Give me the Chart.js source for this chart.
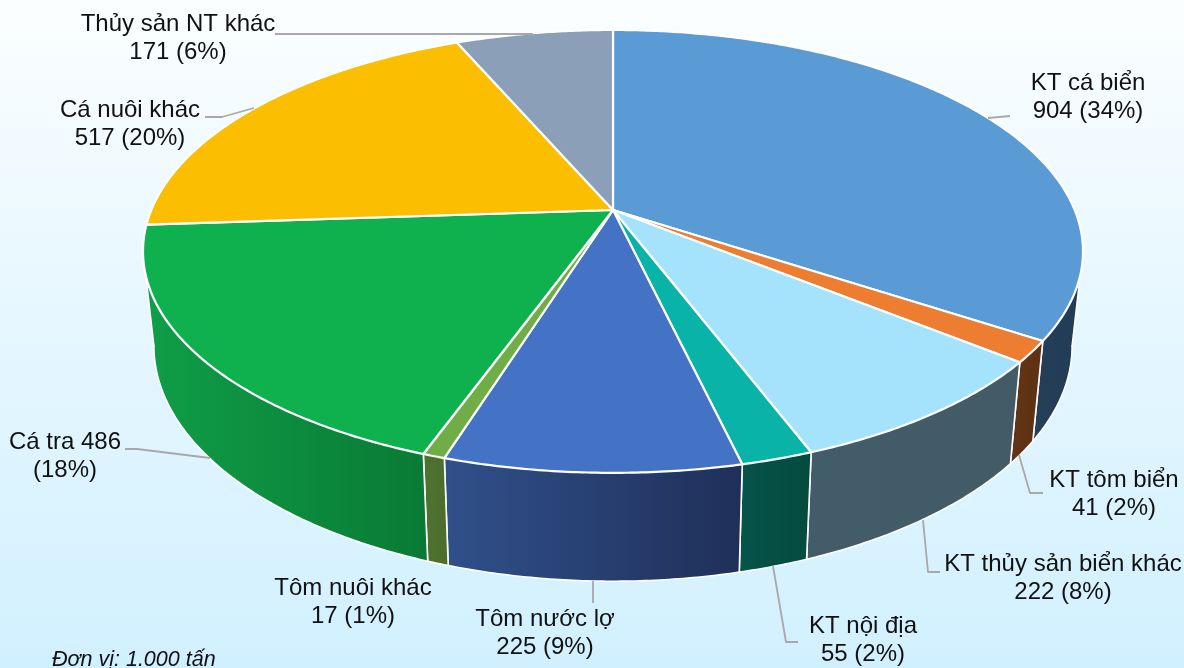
<!DOCTYPE html>
<html lang="vi">
<head>
<meta charset="utf-8">
<title>Cơ cấu sản lượng thủy sản</title>
<style>
html,body{margin:0;padding:0;width:1184px;height:668px;overflow:hidden;
background:linear-gradient(180deg,#fbfeff 0%,#eaf8ff 38%,#d1f0ff 100%);}
canvas{display:block}
</style>
<script src="https://cdn.jsdelivr.net/npm/chart.js@4/dist/chart.umd.min.js"></script>
</head>
<body>
<canvas id="c" width="1184" height="668"></canvas>
<script>
const categories = ["KT cá biển","KT tôm biển","KT thủy sản biển khác","KT nội địa","Tôm nước lợ","Tôm nuôi khác","Cá tra","Cá nuôi khác","Thủy sản NT khác"];
const values = [904,41,222,55,225,17,486,517,171];
const percents = [34,2,8,2,9,1,18,20,6];
const topColors = ["#5B9BD5","#ED7D31","#A5E3FC","#0AB3A8","#4472C4","#70AD47","#0FB14F","#FCBE00","#8B9FB9"];
const sideFrom = ["#263F59","#633516","#435C69","#06544A","#30508A","#4E722F","#0F9E47","#A87F00","#5D6B7C"];
const sideTo   = ["#233C55","#5E3113","#425B67","#044A3F","#1F2F59","#4C6E2D","#097A35","#A87F00","#5D6B7C"];
const unitNote = "Đơn vị: 1.000 tấn";

/* text layout: [centre x, first line y, first line, second line] */
const labelLines = [
  [1088,83,"KT cá biển","904 (34%)"],
  [1114,480,"KT tôm biển","41 (2%)"],
  [1063,564,"KT thủy sản biển khác","222 (8%)"],
  [863,626,"KT nội địa","55 (2%)"],
  [545,619,"Tôm nước lợ","225 (9%)"],
  [353,588,"Tôm nuôi khác","17 (1%)"],
  [65,442,"Cá tra 486","(18%)"],
  [130,110,"Cá nuôi khác","517 (20%)"],
  [178,24,"Thủy sản NT khác","171 (6%)"]
];
const leaderPaths = [
  [[988,118],[1010,116]],
  [[1019,455],[1030,493],[1043,493]],
  [[923,520],[928,572],[940,572]],
  [[773,566],[786,642],[798,642]],
  [[593,581],[593,603]],
  [],
  [[125,449],[137,449],[210,458]],
  [[205,117],[222,117],[254,108]],
  [[275,34],[533,34]]
];

/* perspective planes of the disc */
const persp = 0.187;
const topPlane = {cx:613,cy:210,a:461.7,b:213.7,p:persp};
const basePlane = {cx:613,cy:302,a:451,b:227,p:persp};
const frontStart = Math.asin(persp), frontEnd = Math.PI-frontStart;
function proj(pl,ang){
  const x=Math.cos(ang), v=Math.sin(ang), w=1-pl.p*v;
  return [pl.cx+pl.a*x/w, pl.cy+pl.b*v/w];
}
function rim(pl,s,e){
  const n=Math.max(2,Math.ceil((e-s)/(Math.PI/360))), pts=[];
  for(let i=0;i<=n;i++) pts.push(proj(pl,s+(e-s)*i/n));
  return pts;
}
function trace(ctx,pts){
  pts.forEach((p,k)=>k?ctx.lineTo(p[0],p[1]):ctx.moveTo(p[0],p[1]));
}
const pie3d = {
  id:'pie3d',
  beforeDatasetDraw(chart,args){
    const ctx=chart.ctx, arcs=chart.getDatasetMeta(args.index).data;
    ctx.save();
    ctx.lineJoin='round'; ctx.lineCap='round'; ctx.strokeStyle='#ffffff';
    arcs.forEach((arc,i)=>{
      const s=Math.max(arc.startAngle,frontStart), e=Math.min(arc.endAngle,frontEnd);
      if(e<=s) return;
      const a=rim(topPlane,s,e), b=rim(basePlane,s,e);
      const outline=a.concat(b.slice().reverse());
      const xs=outline.map(p=>p[0]);
      const g=ctx.createLinearGradient(Math.min(...xs),0,Math.max(...xs),0);
      g.addColorStop(0,sideFrom[i]); g.addColorStop(1,sideTo[i]);
      ctx.beginPath(); trace(ctx,outline); ctx.closePath();
      ctx.fillStyle=g; ctx.fill();
      ctx.lineWidth=1.6;
      ctx.beginPath(); trace(ctx,b); ctx.stroke();
      /* slice edges and the two outer silhouette edges */
      ctx.beginPath(); trace(ctx,[a[0],b[0]]); ctx.stroke();
      ctx.beginPath(); trace(ctx,[a[a.length-1],b[b.length-1]]); ctx.stroke();
    });
    arcs.forEach((arc,i)=>{
      const pts=rim(topPlane,arc.startAngle,arc.endAngle);
      ctx.beginPath();
      trace(ctx,[[topPlane.cx,topPlane.cy]].concat(pts));
      ctx.closePath();
      ctx.fillStyle=topColors[i]; ctx.fill();
      ctx.lineWidth=2.2; ctx.stroke();
    });
    ctx.restore();
    return false;
  },
  afterDatasetsDraw(chart){
    const ctx=chart.ctx;
    ctx.save();
    ctx.strokeStyle='#a8a8a8'; ctx.lineWidth=1.8; ctx.lineJoin='round';
    leaderPaths.forEach(path=>{
      if(!path.length) return;
      ctx.beginPath(); trace(ctx,path); ctx.stroke();
    });
    ctx.fillStyle='#111111';
    ctx.font='24px "Liberation Sans", Arial, sans-serif';
    ctx.textAlign='center'; ctx.textBaseline='middle';
    labelLines.forEach(l=>{
      ctx.fillText(l[2],l[0],l[1]);
      ctx.fillText(l[3],l[0],l[1]+28.5);
    });
    ctx.font='italic 21.5px "Liberation Sans", Arial, sans-serif';
    ctx.textAlign='left'; ctx.textBaseline='alphabetic';
    ctx.fillText(unitNote,52,666);
    ctx.restore();
  }
};
new Chart(document.getElementById('c'),{
  type:'pie',
  data:{labels:categories,datasets:[{data:values,backgroundColor:topColors}]},
  options:{
    responsive:false,animation:false,
    layout:{padding:0},
    plugins:{legend:{display:false},tooltip:{enabled:false},title:{display:false}}
  },
  plugins:[pie3d]
});
</script>
</body>
</html>
